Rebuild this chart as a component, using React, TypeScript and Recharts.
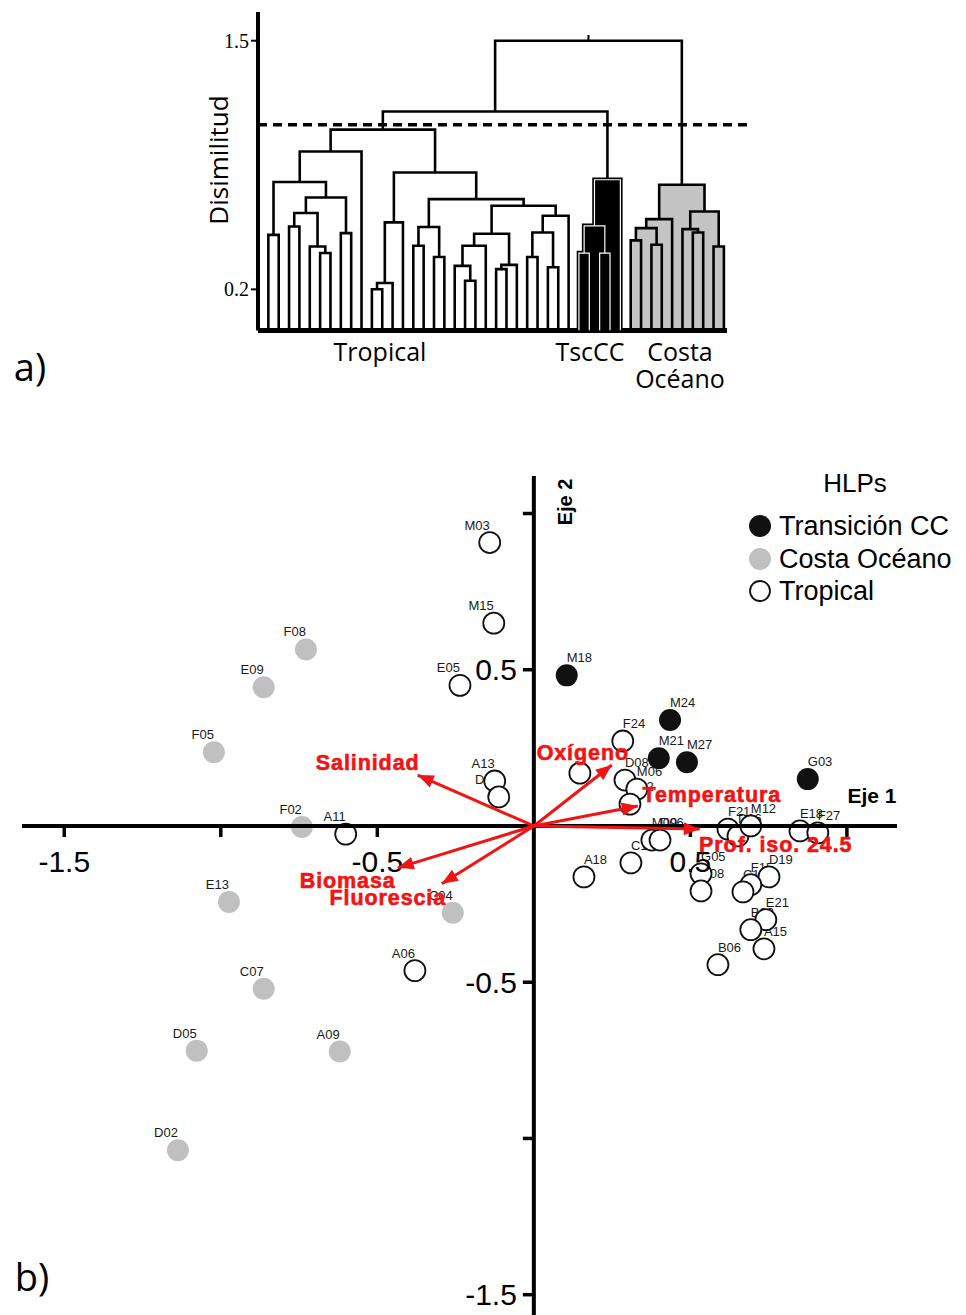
import React from "react";
import {
  ScatterChart,
  Scatter,
  XAxis,
  YAxis,
  ReferenceArea,
  ReferenceLine,
  ReferenceDot,
} from "recharts";

// ---------- a) dendrogram ----------
const clusterNames = ["Tropical", "TscCC", "Costa Océano"];
// cluster of each leaf, left to right
const leafCluster = [
  0, 0, 0, 0, 0, 0, 0, 0, 0, 0,
  0, 0, 0, 0, 0, 0, 0, 0, 0, 0,
  0, 0, 0, 0, 0, 0, 0, 0, 0, 0,
  1, 1, 1, 1, 1,
  2, 2, 2, 2, 2, 2, 2, 2, 2, 2,
];
// hclust style: negative = leaf (-1 is first leaf), positive = earlier merge (1-based)
const merges: [number, number, number][] = [
  [-1, -2, 0.485],
  [-3, -4, 0.529],
  [-6, -7, 0.39],
  [-5, 3, 0.424],
  [-8, -9, 0.494],
  [2, 4, 0.599],
  [6, 5, 0.68],
  [1, 7, 0.761],
  [8, -10, 0.921],
  [-11, -12, 0.201],
  [10, -13, 0.233],
  [11, -14, 0.55],
  [-15, -16, 0.428],
  [-17, -18, 0.369],
  [13, 14, 0.526],
  [-20, -21, 0.245],
  [-19, 16, 0.323],
  [17, -22, 0.428],
  [-23, -24, 0.306],
  [19, -25, 0.328],
  [18, 20, 0.491],
  [-26, -27, 0.369],
  [-28, -29, 0.316],
  [22, 23, 0.497],
  [24, -30, 0.585],
  [21, 25, 0.637],
  [15, 26, 0.672],
  [12, 27, 0.811],
  [9, 28, 1.035],
  [-31, -32, 0.39],
  [-33, -34, 0.39],
  [30, 31, 0.532],
  [32, -35, 0.773],
  [29, 33, 1.13],
  [-36, -37, 0.456],
  [-38, -39, 0.433],
  [35, 36, 0.52],
  [37, -40, 0.567],
  [-42, -43, 0.497],
  [-41, 39, 0.515],
  [-44, -45, 0.424],
  [40, 41, 0.607],
  [38, 42, 0.747],
  [34, 43, 1.5],
];
const cutHeight = 1.06;
const dendroTicks = [0.2, 1.5];

// ---------- b) ordination ----------
const transicionCC = [
  { name: "M18", x: 0.105, y: 0.482 },
  { name: "M24", x: 0.435, y: 0.339 },
  { name: "M21", x: 0.399, y: 0.217 },
  { name: "M27", x: 0.489, y: 0.204 },
  { name: "G03", x: 0.875, y: 0.15 },
];
const costaOceano = [
  { name: "F08", x: -0.728, y: 0.565 },
  { name: "E09", x: -0.863, y: 0.444 },
  { name: "F05", x: -1.022, y: 0.236 },
  { name: "F02", x: -0.741, y: -0.003 },
  { name: "E13", x: -0.974, y: -0.243 },
  { name: "C04", x: -0.259, y: -0.278 },
  { name: "C07", x: -0.863, y: -0.521 },
  { name: "D05", x: -1.077, y: -0.719 },
  { name: "A09", x: -0.62, y: -0.722 },
  { name: "D02", x: -1.137, y: -1.038 },
];
const tropical = [
  { name: "M03", x: -0.141, y: 0.907 },
  { name: "M15", x: -0.128, y: 0.649 },
  { name: "E05", x: -0.236, y: 0.45 },
  { name: "A13", x: -0.125, y: 0.144 },
  { name: "D13", x: -0.112, y: 0.093 },
  { name: "A11", x: -0.601, y: -0.026 },
  { name: "A06", x: -0.38, y: -0.463 },
  { name: "A18", x: 0.16, y: -0.163 },
  { name: "F24", x: 0.284, y: 0.272 },
  { name: "", x: 0.147, y: 0.169 },
  { name: "D08", x: 0.291, y: 0.147 },
  { name: "M06", x: 0.329, y: 0.118 },
  { name: "C12", x: 0.307, y: 0.07 },
  { name: "M09", x: 0.377, y: -0.045 },
  { name: "D06", x: 0.403, y: -0.045 },
  { name: "C17", x: 0.31, y: -0.118 },
  { name: "G05", x: 0.534, y: -0.153 },
  { name: "B08", x: 0.534, y: -0.208 },
  { name: "F21", x: 0.62, y: -0.01 },
  { name: "D16", x: 0.652, y: -0.032 },
  { name: "M12", x: 0.693, y: 0.0 },
  { name: "E18", x: 0.85, y: -0.016 },
  { name: "F27", x: 0.907, y: -0.022 },
  { name: "D19", x: 0.751, y: -0.163 },
  { name: "F15", x: 0.693, y: -0.188 },
  { name: "C15", x: 0.668, y: -0.211 },
  { name: "E21", x: 0.741, y: -0.3 },
  { name: "B03", x: 0.693, y: -0.332 },
  { name: "A15", x: 0.735, y: -0.393 },
  { name: "B06", x: 0.588, y: -0.444 },
];
const arrows = [
  { name: "Salinidad", x: -0.371, y: 0.163 },
  { name: "Oxígeno", x: 0.249, y: 0.195 },
  { name: "Temperatura", x: 0.332, y: 0.064 },
  { name: "Prof. iso. 24.5", x: 0.53, y: -0.01 },
  { name: "Biomasa", x: -0.435, y: -0.134 },
  { name: "Fluorescia", x: -0.294, y: -0.185 },
];
const xTicks = [-1.5, -1, -0.5, 0.5, 1];
const xTickLabels = [-1.5, -0.5, 0.5];
const yTicks = [1, 0.5, -0.5, -1, -1.5];
const yTickLabels = [0.5, -0.5, -1.5];

// ---------- styling ----------
const RED = "#f01414";
const SANS = '"Liberation Sans", Arial, sans-serif';
const OPEN = '"Open Sans", "Noto Sans", sans-serif';
const SERIF = '"Liberation Serif", "Times New Roman", serif';
const LEAF_BASE = -0.015;
const clusterFill = ["none", "#000", "#c4c4c4"];

// label placement of the red variable names, px from the arrow tip
const arrowLabelOffset: Record<string, [number, number]> = {
  Salinidad: [-50, -12],
  "Oxígeno": [-29, -12],
  Temperatura: [74, -11],
  "Prof. iso. 24.5": [76, 16],
  Biomasa: [-50, 13],
  Fluorescia: [-54, 14],
};

function buildLinks() {
  const nodes: { x: number; h: number; leaves: number[] }[] = [];
  const get = (r: number) =>
    r < 0 ? { x: -r - 1, h: LEAF_BASE, leaves: [-r - 1] } : nodes[r - 1];
  return merges.map(([a, b, h]) => {
    const A = get(a);
    const B = get(b);
    const leaves = [...A.leaves, ...B.leaves];
    const groups = new Set(leaves.map((i) => leafCluster[i]));
    const cluster = groups.size === 1 ? leafCluster[leaves[0]] : -1;
    nodes.push({ x: (A.x + B.x) / 2, h, leaves });
    return {
      points: [
        { x: A.x, y: A.h },
        { x: A.x, y: h },
        { x: B.x, y: h },
        { x: B.x, y: B.h },
      ],
      x1: A.x,
      x2: B.x,
      h,
      cluster,
      mid: (A.x + B.x) / 2,
    };
  });
}

const noDot = () => <g />;

const Txt = ({ x, y, size, children, family = SANS, weight = 400, anchor = "middle", rotate = 0, color = "#000" }: any) => (
  <div
    style={{
      position: "absolute",
      left: x,
      top: y,
      transform: `translate(${anchor === "start" ? "0" : "-50%"}, -50%) rotate(${rotate}deg)`,
      fontSize: size,
      fontFamily: family,
      fontWeight: weight,
      color,
      whiteSpace: "nowrap",
      lineHeight: 1,
    }}
  >
    {children}
  </div>
);

function Dendrogram() {
  const links = buildLinks();
  const root = links[links.length - 1];
  return (
    <ScatterChart width={966} height={360} margin={{ top: 12, right: 239, bottom: 9.5, left: 198 }}>
      <XAxis
        type="number"
        dataKey="x"
        domain={[-1, 44.3]}
        allowDataOverflow
        tick={false}
        tickLine={false}
        axisLine={{ stroke: "#000", strokeWidth: 5 }}
        height={20}
      />
      <YAxis
        type="number"
        dataKey="y"
        domain={[LEAF_BASE, 1.65]}
        allowDataOverflow
        ticks={dendroTicks}
        interval={0}
        width={60}
        tickSize={7}
        axisLine={{ stroke: "#000", strokeWidth: 4 }}
        tickLine={{ stroke: "#000", strokeWidth: 2 }}
        tick={{ fill: "#000", fontSize: 20, fontFamily: SERIF }}
      />
      {links
        .filter((l) => l.cluster > 0)
        .map((l, i) => (
          <ReferenceArea
            key={"f" + i}
            x1={l.x1}
            x2={l.x2}
            y1={LEAF_BASE}
            y2={l.h}
            fill={clusterFill[l.cluster]}
            fillOpacity={1}
            stroke="none"
            ifOverflow="visible"
          />
        ))}
      {links.map((l, i) => (
        <Scatter
          key={"u" + i}
          data={l.points}
          line={{ stroke: "#000", strokeWidth: l.cluster === 1 ? 4.5 : 2.6 }}
          lineType="joint"
          shape={noDot}
          isAnimationActive={false}
        />
      ))}
      {links
        .filter((l) => l.cluster === 1)
        .map((l, i) => (
          <Scatter
            key={"w" + i}
            data={l.points}
            line={{ stroke: "#fff", strokeWidth: 1.2 }}
            lineType="joint"
            shape={noDot}
            isAnimationActive={false}
          />
        ))}
      <Scatter
        data={[
          { x: root.mid, y: 1.5 },
          { x: root.mid, y: 1.53 },
        ]}
        line={{ stroke: "#000", strokeWidth: 2 }}
        lineType="joint"
        shape={noDot}
        isAnimationActive={false}
      />
      <ReferenceLine
        segment={[
          { x: -1, y: cutHeight },
          { x: 46.5, y: cutHeight },
        ]}
        stroke="#000"
        strokeWidth={3.5}
        strokeDasharray="9 6"
        ifOverflow="visible"
      />
    </ScatterChart>
  );
}

const pointLabel = (p: any) => (
  <text
    x={p.cx}
    y={p.cy - 13}
    textAnchor={p.payload.x < 0 ? "end" : "start"}
    fontSize={13}
    fontFamily={SANS}
    fill="#1a1a1a"
  >
    {p.payload.name}
  </text>
);
const openDot = (p: any) => <circle cx={p.cx} cy={p.cy} r={10.5} fill="#fff" stroke="#111" strokeWidth={1.8} />;
const grayDot = (p: any) => <circle cx={p.cx} cy={p.cy} r={11} fill="#c0c0c0" />;
const blackDot = (p: any) => <circle cx={p.cx} cy={p.cy} r={11} fill="#111" />;

const arrowHead = (p: any) => {
  if (!p.payload.tip) return <g />;
  const ang = Math.atan2(-p.payload.y, p.payload.x);
  const L = 16;
  const W = 6.5;
  const bx = p.cx - L * Math.cos(ang);
  const by = p.cy - L * Math.sin(ang);
  const nx = -Math.sin(ang) * W;
  const ny = Math.cos(ang) * W;
  return (
    <polygon
      points={`${p.cx},${p.cy} ${bx + nx},${by + ny} ${bx - nx},${by - ny}`}
      fill={RED}
    />
  );
};

const arrowLabel = (p: any) => {
  const [dx, dy] = arrowLabelOffset[p.payload.name] || [0, 0];
  return (
    <text
      x={p.cx + dx}
      y={p.cy + dy}
      textAnchor="middle"
      dominantBaseline="central"
      fontSize={21.5}
      fontWeight={700}
      fontFamily={SANS}
      fill={RED}
      stroke={RED}
      strokeWidth={0.6}
      letterSpacing={0.9}
    >
      {p.payload.name}
    </text>
  );
};

function Biplot() {
  return (
    <ScatterChart width={966} height={875} margin={{ top: 36, right: 69, bottom: 0, left: 22 }}>
      <XAxis type="number" dataKey="x" domain={[-1.635, 1.16]} allowDataOverflow hide />
      <YAxis type="number" dataKey="y" domain={[-1.565, 1.12]} allowDataOverflow hide />
      <Scatter data={[...transicionCC, ...costaOceano, ...tropical]} shape={pointLabel} isAnimationActive={false} />
      <Scatter data={tropical} shape={openDot} isAnimationActive={false} />
      <Scatter data={costaOceano} shape={grayDot} isAnimationActive={false} />
      <Scatter data={transicionCC} shape={blackDot} isAnimationActive={false} />
      <ReferenceLine y={0} stroke="#000" strokeWidth={4} zIndex={650} />
      <ReferenceLine x={0} stroke="#000" strokeWidth={4} zIndex={650} />
      {xTicks.map((t) => (
        <ReferenceDot
          key={"xt" + t}
          x={t}
          y={0}
          zIndex={650}
          shape={(p: any) => (
            <g>
              <line x1={p.cx} x2={p.cx} y1={p.cy} y2={p.cy + 11} stroke="#000" strokeWidth={3.5} />
              {xTickLabels.includes(t) && (
                <text x={p.cx} y={p.cy + 36} textAnchor="middle" dominantBaseline="central" fontSize={30} fontFamily={SANS} fill="#000">
                  {String(t)}
                </text>
              )}
            </g>
          )}
        />
      ))}
      {yTicks.map((t) => (
        <ReferenceDot
          key={"yt" + t}
          x={0}
          y={t}
          zIndex={650}
          shape={(p: any) => (
            <g>
              <line x1={p.cx - 11} x2={p.cx} y1={p.cy} y2={p.cy} stroke="#000" strokeWidth={3.5} />
              {yTickLabels.includes(t) && (
                <text x={p.cx - 17} y={p.cy} textAnchor="end" dominantBaseline="central" fontSize={30} fontFamily={SANS} fill="#000">
                  {String(t)}
                </text>
              )}
            </g>
          )}
        />
      ))}
      {arrows.map((a) => (
        <Scatter
          key={a.name}
          data={[
            { x: 0, y: 0, tip: false },
            { x: a.x, y: a.y, tip: true },
          ]}
          line={{ stroke: RED, strokeWidth: 3 }}
          lineType="joint"
          shape={arrowHead}
          zIndex={700}
          isAnimationActive={false}
        />
      ))}
      <Scatter data={arrows} shape={arrowLabel} zIndex={800} isAnimationActive={false} />
    </ScatterChart>
  );
}

const legendItems = [
  { label: "Transición CC", fill: "#111", stroke: "none" },
  { label: "Costa Océano", fill: "#c0c0c0", stroke: "none" },
  { label: "Tropical", fill: "#fff", stroke: "#111" },
];

export default function App() {
  return (
    <div style={{ position: "absolute", left: 0, top: 0, width: 966, height: 1315, background: "#fff", overflow: "hidden" }}>
      <div style={{ position: "absolute", left: 0, top: 0 }}>
        <Dendrogram />
      </div>
      <Txt x={218} y={160} size={26} family={OPEN} rotate={-90}>Disimilitud</Txt>
      <Txt x={380} y={351} size={25} family={OPEN}>{clusterNames[0]}</Txt>
      <Txt x={590} y={351} size={25} family={OPEN}>{clusterNames[1]}</Txt>
      <Txt x={680} y={351} size={25} family={OPEN}>{clusterNames[2].split(" ")[0]}</Txt>
      <Txt x={680} y={378} size={25} family={OPEN}>{clusterNames[2].split(" ")[1]}</Txt>
      <Txt x={30} y={366} size={38} family={OPEN}>a)</Txt>

      <div style={{ position: "absolute", left: 0, top: 440 }}>
        <Biplot />
      </div>
      <Txt x={565} y={502} size={20} weight={700} rotate={-90}>Eje 2</Txt>
      <Txt x={872} y={795} size={21} weight={700}>Eje 1</Txt>
      <Txt x={32} y={1276} size={38} family={OPEN}>b)</Txt>

      <Txt x={855} y={483} size={26}>HLPs</Txt>
      {legendItems.map((it, i) => (
        <React.Fragment key={it.label}>
          <svg style={{ position: "absolute", left: 747, top: 513 + i * 32.5 }} width={26} height={26}>
            <circle cx={13} cy={13} r={it.stroke === "none" ? 11 : 10} fill={it.fill} stroke={it.stroke} strokeWidth={1.8} />
          </svg>
          <Txt x={779} y={526 + i * 32.5} size={27} anchor="start">{it.label}</Txt>
        </React.Fragment>
      ))}
    </div>
  );
}
